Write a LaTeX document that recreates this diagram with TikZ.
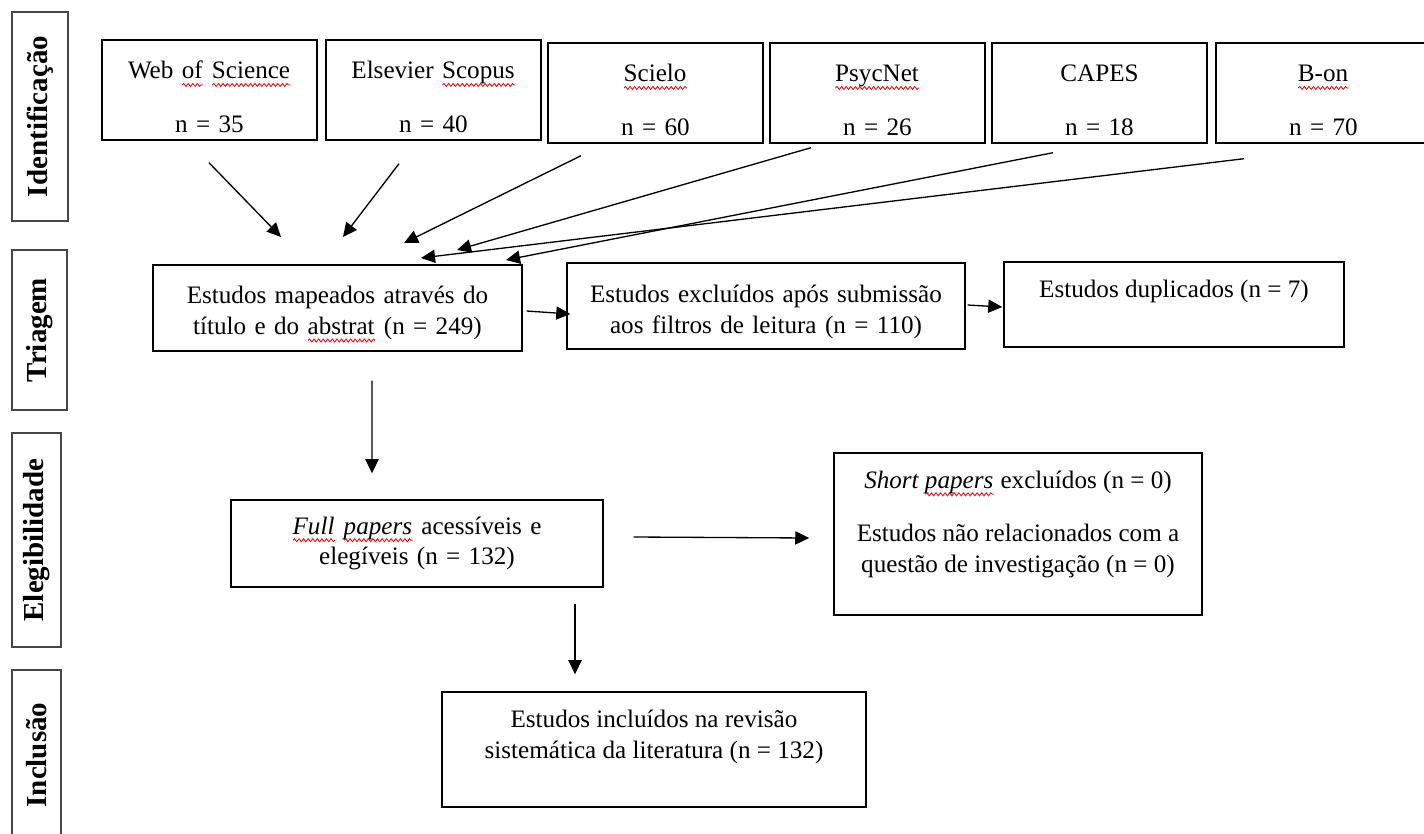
\documentclass[tikz,border=0pt]{standalone}
\usepackage{fontspec}
\setmainfont{Liberation Serif}
\usepackage{xcolor}
\usepackage{tikz}
\usetikzlibrary{arrows.meta,positioning,calc,decorations.pathmorphing}
\definecolor{myframe}{RGB}{70,70,70}
\definecolor{myspell}{RGB}{225,20,20}
\newsavebox{\spellbox}
\newcommand{\spell}[1]{\sbox{\spellbox}{#1}\rlap{\usebox{\spellbox}}%
  \tikz[baseline=3.5pt]\draw[myspell, line width=0.5pt, decorate,
      decoration={snake, amplitude=0.85pt, segment length=2.6pt}]
    (0,0) -- (\the\wd\spellbox,0);}
\newcommand{\topalign}[3]{\begin{minipage}[c][#1][t]{#2}\centering\rule{0pt}{20pt}#3\end{minipage}}

\begin{document}
\begin{tikzpicture}[font=\fontsize{14.3}{17.6}\selectfont,
    box/.style={draw, line width=0.8pt, align=center, inner sep=2pt},
    phase/.style={draw=myframe, line width=1pt, rotate=90,
                  font=\fontsize{16.5}{18}\selectfont\bfseries},
    arr/.style={-{Triangle[length=8pt,width=7.5pt]}, line width=0.75pt}]
  \useasboundingbox (0,0) rectangle (28.48,-16.68);

  \node[phase, minimum width=4.18cm, minimum height=1.12cm] (ident) at (0.80,-2.33){Identificação};
  \node[phase, minimum width=3.2cm, minimum height=1.10cm] (triag) at (0.79,-6.6){Triagem};
  \node[phase, minimum width=4.28cm, minimum height=0.98cm] (eleg) at (0.73,-10.8){Elegibilidade};
  \node[phase, minimum width=3.4cm, minimum height=0.98cm] (inclu) at (0.73,-15.1){Inclusão};

  \foreach \name/\title/\n/\x/\y in {wos/Web \spell{of} \spell{Science}/35/4.19/-1.8,
      scopus/Elsevier \spell{Scopus}/40/8.67/-1.8,
      scielo/\spell{Scielo}/60/13.11/-1.86,
      psycnet/\spell{PsycNet}/26/17.55/-1.86,
      capes/CAPES/18/21.99/-1.86,
      bon/\spell{B-on}/70/26.47/-1.86}{
    \node[box, text width=4cm, minimum width=4.3cm, minimum height=2cm]
      (\name) at (\x,\y){\rule{0pt}{18pt}\title\\[13pt]n = \n};
  }

  \node[box, text width=7cm, minimum width=7.38cm, minimum height=1.72cm]
    (mapeados) at (6.75,-6.16){\rule{0pt}{17pt}Estudos mapeados através do\\título e do \spell{abstrat} (n = 249)};
  \node[box, text width=7.6cm, minimum width=7.96cm, minimum height=1.72cm]
    (excl) at (15.32,-6.12){\rule{0pt}{17pt}Estudos excluídos após submissão\\aos filtros de leitura (n = 110)};
  \node[box, inner sep=0pt] (dup) at (23.48,-6.09)
    {\topalign{1.7cm}{6.8cm}{Estudos duplicados (n = 7)}};

  \node[box, text width=7cm, minimum width=7.44cm, minimum height=1.74cm]
    (full) at (8.34,-10.87){\textit{\spell{Full} \spell{papers}} acessíveis e\\elegíveis (n = 132)};
  \node[box, inner sep=0pt] (short) at (20.36,-10.68)
    {\topalign{3.24cm}{7.36cm}{\textit{Short \spell{papers}} excluídos (n = 0)\\[13pt]Estudos não relacionados com a\\questão de investigação (n = 0)}};
  \node[box, inner sep=0pt] (incl) at (13.08,-14.99)
    {\topalign{2.3cm}{8.48cm}{Estudos incluídos na revisão\\sistemática da literatura (n = 132)}};

  \foreach \name/\ex/\ey in {wos/5.62/-4.74, scopus/6.86/-4.74, scielo/8.08/-4.86,
      psycnet/9.14/-5.0, capes/10.12/-5.2, bon/8.42/-5.16}{
    \coordinate (\name-in) at (\ex,\ey);
  }
  \foreach \name/\dx/\dy in {wos/-0.01/-0.44, scopus/-0.69/-0.46, scielo/-1.49/-0.24,
      psycnet/-1.33/-0.08, capes/-0.93/-0.18, bon/-1.59/-0.30}{
    \draw[arr] ([shift={(\dx,\dy)}]\name.south) -- (\name-in);
  }

  \draw[arr] ([shift={(0.08,-0.06)}]mapeados.east) -- ([shift={(0.08,-0.16)}]excl.west);
  \draw[arr] ([shift={(0.04,0.02)}]excl.east) -- ([shift={(-0.02,-0.05)}]dup.west);
  \draw[arr] ([shift={(0.69,-0.58)}]mapeados.south) -- ([shift={(-0.9,0.52)}]full.north);
  \draw[arr] ([shift={(0.6,0.13)}]full.east) -- ([shift={(-0.48,-0.08)}]short.west);
  \draw[arr] ([shift={(3.16,-0.32)}]full.south) -- ([shift={(-1.58,0.34)}]incl.north);
\end{tikzpicture}
\end{document}
